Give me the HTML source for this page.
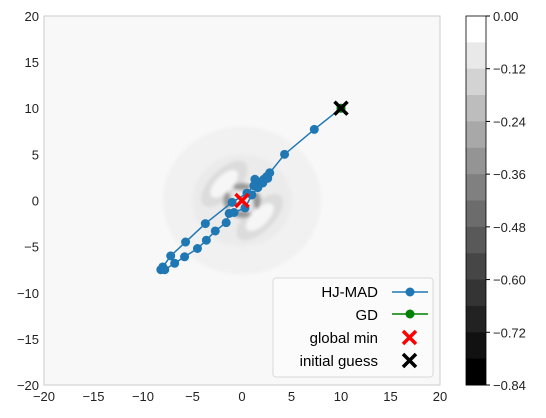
<!DOCTYPE html>
<html><head><meta charset="utf-8"><style>
body{margin:0;background:#fff;width:546px;height:413px;overflow:hidden}
text{font-family:"Liberation Sans","DejaVu Sans",sans-serif}
</style></head><body>
<svg id="chart" width="546" height="413" xmlns="http://www.w3.org/2000/svg">
<defs>
<filter id="bl" x="-50%" y="-50%" width="200%" height="200%"><feGaussianBlur stdDeviation="1.5"/></filter>
<clipPath id="pc"><rect x="44" y="16" width="396" height="369"/></clipPath>
</defs>
<rect x="44" y="16" width="396" height="369" fill="#f8f8f8"/>
<g id="contours" clip-path="url(#pc)"></g>
<g id="series" clip-path="url(#pc)"></g>
<g id="markers"></g>
<rect x="44" y="16" width="396" height="369" fill="none" stroke="#cccccc" stroke-width="1"/>
<g id="xticks"></g>
<g id="yticks"></g>
<g id="cbar"></g>
<g>
<rect x="273" y="278" width="160" height="99" rx="3" fill="#fbfbfb" fill-opacity="0.9" stroke="#d9d9d9"/>
<g><text x="378" y="297" text-anchor="end" font-size="15">HJ-MAD</text><line x1="392" y1="292" x2="428" y2="292" stroke="#1f77b4" stroke-width="1.5"/><circle cx="410" cy="292" r="4.5" fill="#1f77b4"/></g>
<g><text x="378" y="320" text-anchor="end" font-size="15">GD</text><line x1="392" y1="314" x2="428" y2="314" stroke="green" stroke-width="1.5"/><circle cx="410" cy="314" r="4.5" fill="green"/></g>
<g><text x="378" y="343" text-anchor="end" font-size="15">global min</text><path d="M403 331l13 13M416 331l-13 13" stroke="red" stroke-width="3.5"/></g>
<g><text x="378" y="366" text-anchor="end" font-size="15">initial guess</text><path d="M403 354l13 13M416 354l-13 13" stroke="#000" stroke-width="3.5"/></g>
</g>
</svg>
<script>
const xTicks=[-20,-15,-10,-5,0,5,10,15,20];
const yTicks=[-20,-15,-10,-5,0,5,10,15,20];
const cbarTicks=[0,-0.12,-0.24,-0.36,-0.48,-0.60,-0.72,-0.84];
const cbarLevels=[0,-0.06,-0.12,-0.18,-0.24,-0.30,-0.36,-0.42,-0.48,-0.54,-0.60,-0.66,-0.72,-0.78,-0.84];
const hjX=[10,7.3,4.3,2.8,2.5,2.2,1.8,1.3,1.2,0.5,-1.0,-3.7,-5.7,-7.2,-8.0,-8.2,-7.8,-6.8,-5.8,-4.5,-3.6,-2.7,-1.6,-1.3,-0.8,0.3,1.0,1.6,2.1,2.6];
const hjY=[10,7.7,5.0,3.0,2.6,2.3,2.0,2.3,1.6,0.8,-0.2,-2.5,-4.5,-6.0,-7.2,-7.5,-7.5,-6.8,-6.1,-5.2,-4.3,-3.3,-2.4,-1.4,-1.3,-0.8,0.6,1.4,1.9,2.4];
const gdX=[10], gdY=[10];
const globalMin=[0,0], initGuess=[10,10];
const NS='http://www.w3.org/2000/svg';
const sx=v=>242+v*9.9, sy=v=>200.5-v*9.23;
const cy=v=>16+(v/-0.84)*369;
function mk(t,a,p){const e=document.createElementNS(NS,t);for(const k in a)e.setAttribute(k,a[k]);p.appendChild(e);return e;}
const xg=document.getElementById('xticks');
xTicks.forEach(v=>{const t=mk('text',{x:sx(v),y:401,'text-anchor':'middle','font-size':13,fill:'#222'},xg);t.textContent=v<0?'\u2212'+(-v):v;

});
const yg=document.getElementById('yticks');
yTicks.forEach(v=>{const t=mk('text',{x:39,y:sy(v)+5,'text-anchor':'end','font-size':13,fill:'#222'},yg);t.textContent=v<0?'\u2212'+(-v):v;

});
const cb=document.getElementById('cbar');
for(let i=0;i<cbarLevels.length-1;i++){const f=i/(cbarLevels.length-2);const c=Math.round(255*(1-f)*(1-f*0.15));
const r=mk('rect',{x:466,y:cy(cbarLevels[i]),width:20,height:cy(cbarLevels[i+1])-cy(cbarLevels[i])+0.5,fill:`rgb(${c},${c},${c})`},cb);

}
mk('rect',{x:466,y:16,width:20,height:369,fill:'none',stroke:'#000','stroke-width':0.8},cb);
cbarTicks.forEach(v=>{mk('line',{x1:486,x2:490,y1:cy(v),y2:cy(v),stroke:'#000'},cb);
const t=mk('text',{x:493,y:cy(v)+5,'font-size':13,fill:'#222'},cb);t.textContent=v==0?'0.00':'\u2212'+(-v).toFixed(2);

});
const cg=document.getElementById('contours');
const blobs=[[0,0,8,8,'#f1f1f1',0],[0,0,5,5,'#ebebeb',0],[-1.8,1.8,3,1.5,'#dcdcdc',-45],[1.8,-1.8,3,1.5,'#dcdcdc',-45],[-1.8,1.8,1.8,0.9,'#f6f6f6',-45],[1.8,-1.8,1.8,0.9,'#f6f6f6',-45],[-1.5,0,0.4,0.9,'#9a9a9a',0],[1.5,0,0.4,0.9,'#9a9a9a',0],[0,1.5,0.9,0.4,'#9a9a9a',0],[0,-1.5,0.9,0.4,'#9a9a9a',0]];
const cG=mk('g',{filter:'url(#bl)'},cg);
blobs.forEach(b=>{mk('ellipse',{cx:sx(b[0]),cy:sy(b[1]),rx:b[2]*9.9,ry:b[3]*9.23,fill:b[4],transform:`rotate(${b[5]} ${sx(b[0])} ${sy(b[1])})`},cG);});
const sg=document.getElementById('series');
const pts=hjX.map((x,i)=>sx(x)+','+sy(hjY[i])).join(' ');
const pl=mk('polyline',{points:pts,fill:'none',stroke:'#1f77b4','stroke-width':1.5},sg);


hjX.forEach((x,i)=>{const c=mk('circle',{cx:sx(x),cy:sy(hjY[i]),r:4.5,fill:'#1f77b4'},sg);

});
gdX.forEach((x,i)=>{const c=mk('circle',{cx:sx(x),cy:sy(gdY[i]),r:4.5,fill:'green'},sg);

});
const mg=document.getElementById('markers');
function X(p,col,name){const a=sx(p[0]),b=sy(p[1]);const e=mk('path',{d:`M${a-6.5} ${b-6.5}l13 13M${a+6.5} ${b-6.5}l-13 13`,stroke:col,'stroke-width':3.5},mg);

}
X(globalMin,'red','global-min-marker');X(initGuess,'#000','initial-guess-marker');
</script>
</body></html>
